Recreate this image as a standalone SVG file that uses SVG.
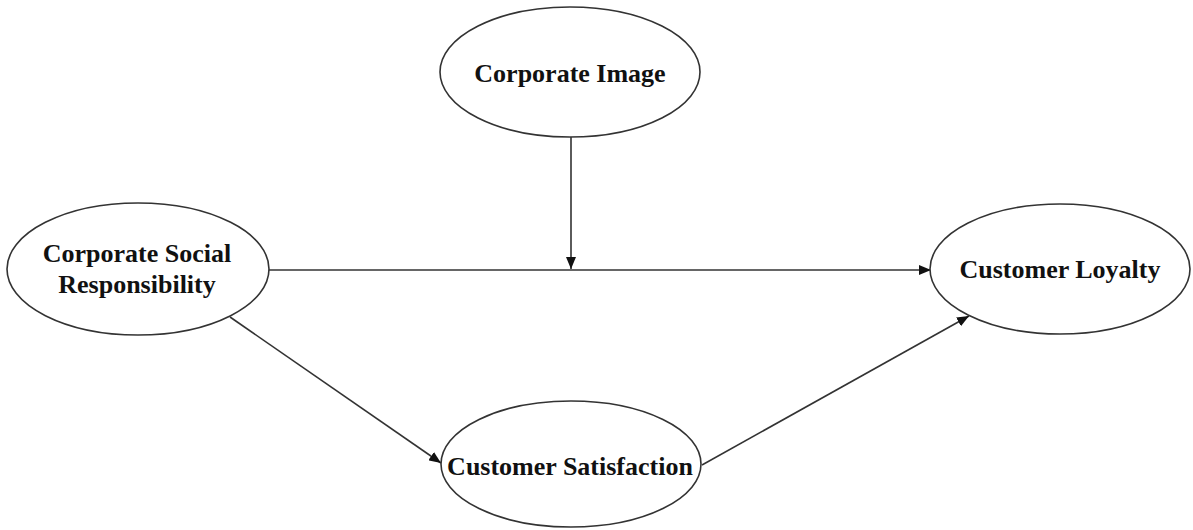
<svg xmlns="http://www.w3.org/2000/svg" width="1193" height="530" viewBox="0 0 1193 530">
<style>
.node ellipse{fill:#fff;stroke:#333;stroke-width:1.6}
.node text{font-family:"Liberation Serif","Times New Roman",serif;font-weight:bold;font-size:26px;fill:#111;text-anchor:middle}
.conn line{stroke:#333;stroke-width:1.6;fill:none}
</style>
<defs>
<marker id="ah" viewBox="0 0 12 10" refX="12" refY="5" markerWidth="12" markerHeight="10" markerUnits="userSpaceOnUse" orient="auto">
<path d="M0,0 L12,5 L0,10 z" fill="#111"/>
</marker>
</defs>
<rect width="1193" height="530" fill="#fff"/>
<g id="connectors" class="conn">
<line x1="571" y1="137" x2="571" y2="269" marker-end="url(#ah)"/>
<line x1="268" y1="270" x2="931" y2="270" marker-end="url(#ah)"/>
<line x1="230" y1="317" x2="441" y2="463" marker-end="url(#ah)"/>
<line x1="702" y1="465" x2="969" y2="316" marker-end="url(#ah)"/>
</g>
<g id="corporate-image" class="node">
<ellipse cx="570" cy="72" rx="130" ry="65"/>
<text x="570" y="82">Corporate Image</text>
</g>
<g id="csr" class="node">
<ellipse cx="138" cy="269" rx="131" ry="66"/>
<text x="137" y="262">Corporate Social</text>
<text x="137" y="293">Responsibility</text>
</g>
<g id="customer-loyalty" class="node">
<ellipse cx="1060" cy="269" rx="130" ry="65"/>
<text x="1060" y="278">Customer Loyalty</text>
</g>
<g id="customer-satisfaction" class="node">
<ellipse cx="571" cy="464" rx="130" ry="63"/>
<text x="570" y="475">Customer Satisfaction</text>
</g>
</svg>
